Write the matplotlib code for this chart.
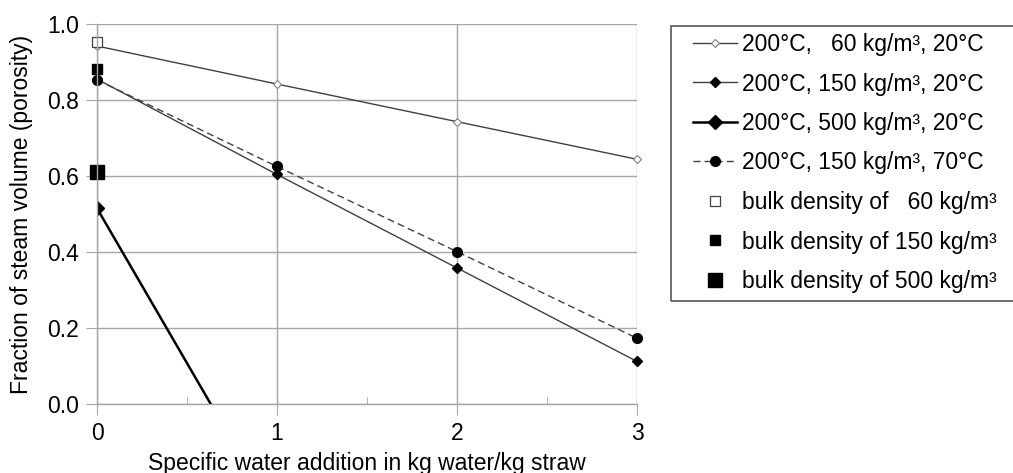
import matplotlib
matplotlib.use("Agg")
import matplotlib.pyplot as plt
from matplotlib.ticker import MultipleLocator
from matplotlib.patches import Rectangle

plt.rcParams['font.family'] = ['Liberation Sans', 'DejaVu Sans']

x = [0, 1, 2, 3]
s60 = [0.942, 0.842, 0.743, 0.644]
s150 = [0.855, 0.604, 0.358, 0.112]
x500 = [0, 1]
s500 = [0.515, -0.30]
s150_70 = [0.853, 0.625, 0.401, 0.173]
bulk60, bulk150, bulk500 = 0.953, 0.882, 0.611

labels = ["200°C,   60 kg/m³, 20°C", "200°C, 150 kg/m³, 20°C",
          "200°C, 500 kg/m³, 20°C", "200°C, 150 kg/m³, 70°C",
          "bulk density of   60 kg/m³", "bulk density of 150 kg/m³",
          "bulk density of 500 kg/m³"]
xticks = [0, 1, 2, 3]
yticks = [0.0, 0.2, 0.4, 0.6, 0.8, 1.0]

W, H = 1013, 473
fig = plt.figure(figsize=(W/100, H/100), dpi=100)
ax = fig.add_axes([97/W, 1-404/H, (637-97)/W, (404-24)/H])

grid_c = '#a6a6a6'
h = []
h += ax.plot(x, s60, color='#404040', lw=1.0, marker='D', ms=4.5, mfc='white', mec='#808080', mew=0.8, label=labels[0])
h += ax.plot(x, s150, color='#404040', lw=1.0, marker='D', ms=5, mfc='black', mec='black', label=labels[1])
h += ax.plot(x500, s500, color='black', lw=1.8, marker='D', ms=7, mfc='black', mec='black', label=labels[2])
h += ax.plot(x, s150_70, color='#404040', lw=1.0, ls=(0, (5, 3)), marker='o', ms=7, mfc='black', mec='black', label=labels[3])
h += ax.plot([0], [bulk60], ls='none', marker='s', ms=7, mfc='white', mec='#404040', mew=0.9, label=labels[4])
h += ax.plot([0], [bulk150], ls='none', marker='s', ms=7, mfc='black', mec='black', label=labels[5])
h += ax.plot([0], [bulk500], ls='none', marker='s', ms=10, mfc='black', mec='black', label=labels[6])
for i, l in enumerate(h):
    l.set_clip_on(i == 2)

ax.set_xlim(0, 3)
ax.set_ylim(0, 1.0)
ax.set_xticks(xticks)
ax.set_yticks(yticks)
ax.set_yticklabels([f"{v:.1f}" for v in yticks])
ax.xaxis.set_minor_locator(MultipleLocator(0.5))
ax.grid(True, which='major', color=grid_c, lw=1.0)
ax.set_axisbelow(True)
for s in ['top', 'right']:
    ax.spines[s].set_visible(False)
for s in ['left', 'bottom']:
    ax.spines[s].set_color(grid_c)
    ax.spines[s].set_linewidth(1.0)
ax.tick_params(axis='both', which='major', direction='out', length=8, color=grid_c, labelsize=16.5, pad=5)
ax.tick_params(axis='x', which='minor', direction='in', length=5, color=grid_c)
ax.set_xlabel("Specific water addition in kg water/kg straw", fontsize=16.5, labelpad=5)
ax.set_ylabel("Fraction of steam volume (porosity)", fontsize=16.5, labelpad=10)

fig.patches.append(Rectangle((671/W, 1-301/H), (W+10-671)/W, (301-26)/H, transform=fig.transFigure,
                             facecolor='none', edgecolor='#555555', lw=1.2, figure=fig))
leg = fig.legend(handles=h, labels=labels, loc='upper left', bbox_to_anchor=(693/W, 1-33/H),
                 fontsize=16.5, frameon=False, handlelength=1.92, handletextpad=0.22,
                 labelspacing=0.72, borderpad=0, borderaxespad=0)

fig.savefig("out.png", dpi=100)
